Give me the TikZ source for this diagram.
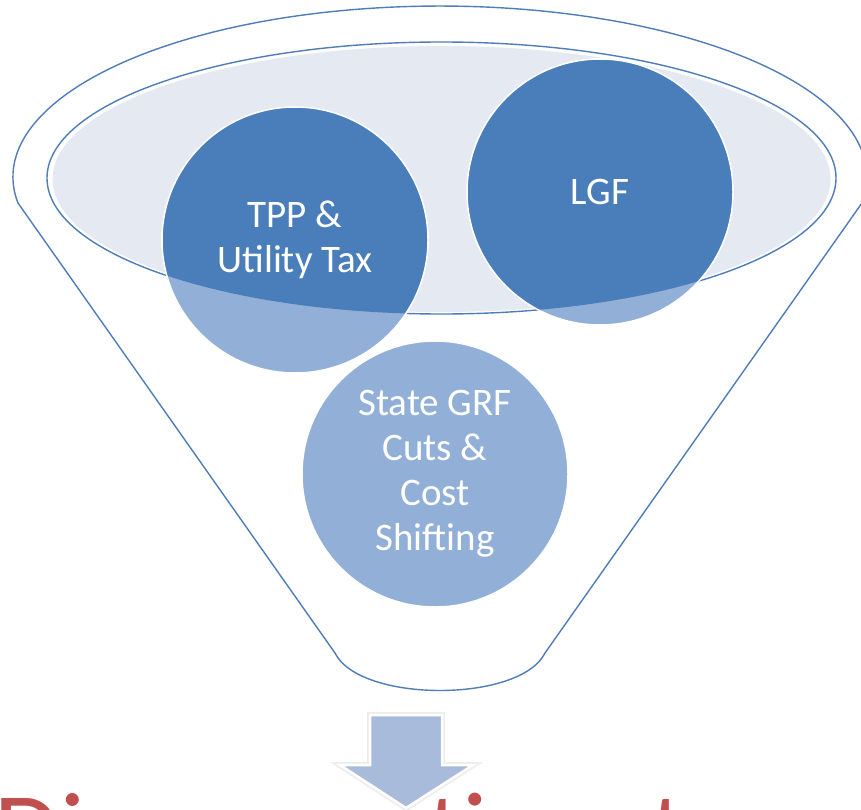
\documentclass[tikz,border=0pt]{standalone}
\usepackage{fontspec}
\setmainfont{Carlito}
\definecolor{funnelblue}{RGB}{79,125,186}
\definecolor{darkblue}{RGB}{74,126,187}
\definecolor{lightblue}{RGB}{146,176,215}
\definecolor{innerfill}{RGB}{229,233,242}
\definecolor{arrowblue}{RGB}{168,187,219}
\definecolor{redtext}{RGB}{192,80,77}
\begin{document}
\begin{tikzpicture}[x=1pt,y=1pt,
  funnelline/.style={draw=funnelblue, line width=1.4pt},
  bubble/.style={circle, minimum size=266pt, inner sep=0pt, draw=white, line width=1.5pt,
    fill=lightblue, text=white, align=center, font=\fontsize{39}{45}\selectfont},
  darkpart/.style={path picture={\fill[darkblue] (ec) ellipse [x radius=394.5, y radius=136];}},
  blockarrow/.style={fill=arrowblue, draw=white, line width=2.5pt, line join=miter},
  arrowhalo/.style={draw=black!7, line width=6pt, line join=miter}
]
\useasboundingbox (0,0) rectangle (861,-810);
\clip (0,0) rectangle (861,-810);
\fill[white] (0,0) rectangle (861,-810);

% centre of the funnel opening
\coordinate (ec) at (441.5,-178);

% funnel body
\path[funnelline, fill=white] (17.9,-202.9)
  arc[start angle=188.7, end angle=-8.7, x radius=427, y radius=171]
  -- (545,-653) .. controls (520,-703) and (360,-703) .. (335,-653) -- cycle;

% funnel opening
\draw[funnelline] (ec) ellipse [x radius=394.5, y radius=136];
\fill[innerfill] (441.5,-179) ellipse [x radius=389, y radius=133];

% bubbles
\node[bubble, darkpart] (tpp) at (295,-240) {TPP \&\\Utility Tax};
\node[bubble, darkpart] (lgf) at (600,-192) {LGF};
\node[bubble] (grf) at (435,-474) {State GRF\\Cuts \&\\Cost\\Shifting};

% title text (cut off by the frame)
\node[anchor=base west, inner sep=0pt, text=redtext,
  font=\fontsize{107.6}{110}\selectfont] (title) at (-5.6,-867) {Disproportionate};

% block arrow
\path[arrowhalo] (370,-715) -- (442,-715) -- (442,-765) -- (473,-765) -- (406,-808)
  -- (340,-765) -- (370,-765) -- cycle;
\path[blockarrow] (370,-715) -- (442,-715) -- (442,-765) -- (473,-765) -- (406,-808)
  -- (340,-765) -- (370,-765) -- cycle;
\end{tikzpicture}
\end{document}
